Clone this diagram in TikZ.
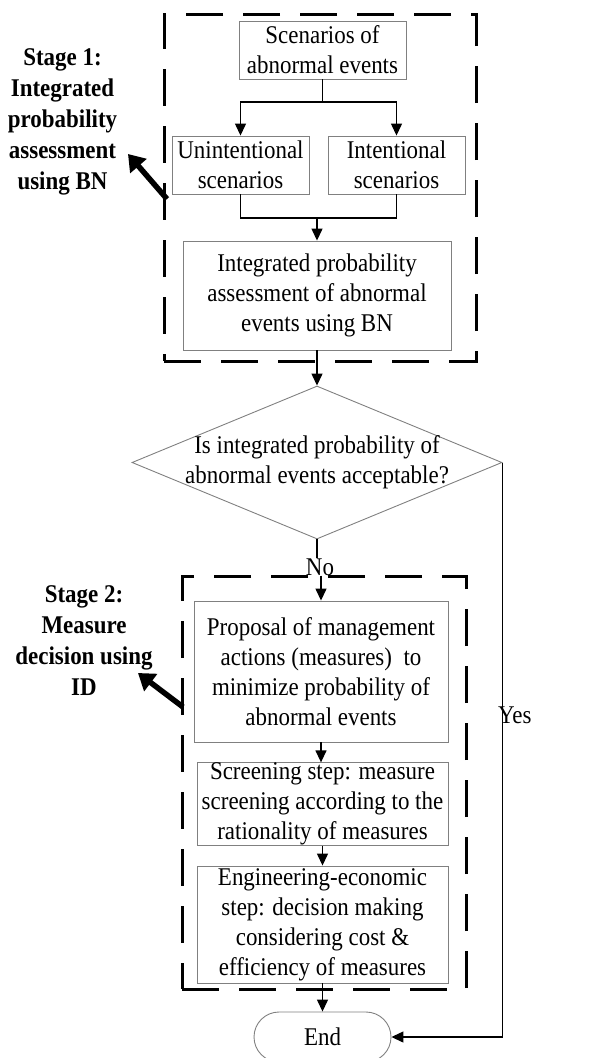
\documentclass[tikz,border=0pt]{standalone}
\usepackage{fontspec}
\setmainfont{Liberation Serif}[FakeStretch=0.9]
\usetikzlibrary{arrows.meta,shapes.geometric,shapes.misc,calc}
\definecolor{boxgray}{RGB}{128,128,128}

\begin{document}
\begin{tikzpicture}[x=1pt,y=-1pt,
  every node/.style={font=\fontsize{25.5}{30}\selectfont, inner sep=0pt, align=center},
  procbox/.style={draw=boxgray, line width=0.9pt},
  frame/.style={draw=black, line width=3pt, dash pattern=on 37pt off 20pt},
  conn/.style={draw=black, line width=1.3pt},
  arr/.style={-{Triangle[length=12pt,width=11pt]}},
  stagelabel/.style={font=\fontsize{25.5}{31}\selectfont\bfseries},
  stagearrow/.style={line width=5.5pt, -{Triangle[length=16pt,width=21pt]}}
]
\useasboundingbox (0,0) rectangle (590,1058);

% dashed stage frames
\node[frame, minimum width=312pt, minimum height=347pt] (frame1) at (320,187.5) {};
\node[frame, minimum width=284pt, minimum height=413pt] (frame2) at (324,782.5) {};

% stage 1 boxes
\node[procbox, minimum width=167pt, minimum height=58pt] (scen) at (322.5,50) {Scenarios of\\abnormal events};
\node[procbox, minimum width=137pt, minimum height=58pt] (unint) at (240.5,165) {Unintentional\\scenarios};
\node[procbox, minimum width=137pt, minimum height=58pt] (int) at (396.5,165) {Intentional\\scenarios};
\node[procbox, minimum width=268pt, minimum height=109pt] (integ) at (317,295.5) {Integrated probability\\assessment of abnormal\\events using BN};

% decision
\node[diamond, procbox, minimum width=370pt, minimum height=153pt] (dec) at (317,462.5) {};
\node (dectext) at (dec.center) {Is integrated probability of\\abnormal events acceptable?};
\node (no) at (320,567) {No};

% stage 2 boxes
\node[procbox, minimum width=254pt, minimum height=141pt] (prop) at (321,671.5) {Proposal of management\\actions (measures)\ \ to\\minimize probability of\\abnormal events};
\node[procbox, minimum width=251pt, minimum height=82pt] (scr) at (322.5,804) {Screening step: measure\\screening according to the\\rationality of measures};
\node[procbox, minimum width=251pt, minimum height=117pt] (eng) at (322.5,924.5) {Engineering-economic\\step: decision making\\considering cost \&\\efficiency of measures};
\node[procbox, rounded rectangle, minimum width=137pt, minimum height=50pt] (end) at (322.5,1037) {End};
\node[anchor=west] (yes) at (498,715) {Yes};

% connectors
\coordinate (split) at (322.5,102);
\draw[conn] (scen.south) -- (split);
\draw[conn,arr] (split) -| (unint.north);
\draw[conn,arr] (split) -| (int.north);
\coordinate (merge) at (317,218);
\draw[conn] (unint.south) |- (merge) -| (int.south);
\draw[conn,arr] (merge) -- (integ.north);
\draw[conn,arr] (integ.south) -- (dec.north);
\draw[conn] (dec.south) -- (dec.south |- no.north);
\draw[conn,arr] (prop.north |- no.south) -- (prop.north);
\draw[conn,arr] (prop.south) -- (prop.south |- scr.north);
\draw[conn,arr] (scr.south) -- (eng.north);
\draw[conn,arr] (eng.south) -- (end.north);
\draw[conn,arr] (dec.east) |- (end.east);

% stage labels
\node[stagelabel] (st1) at (62.5,122) {Stage 1:\\Integrated\\probability\\assessment\\using BN};
\node[stagelabel] (st2) at (84,641) {Stage 2:\\Measure\\decision using\\ID};
\coordinate (p1a) at (167,199);
\coordinate (p1b) at (128,154);
\draw[stagearrow] (p1a) -- (p1b);
\coordinate (p2a) at (183,707);
\coordinate (p2b) at (138,673);
\draw[stagearrow] (p2a) -- (p2b);
\end{tikzpicture}
\end{document}
